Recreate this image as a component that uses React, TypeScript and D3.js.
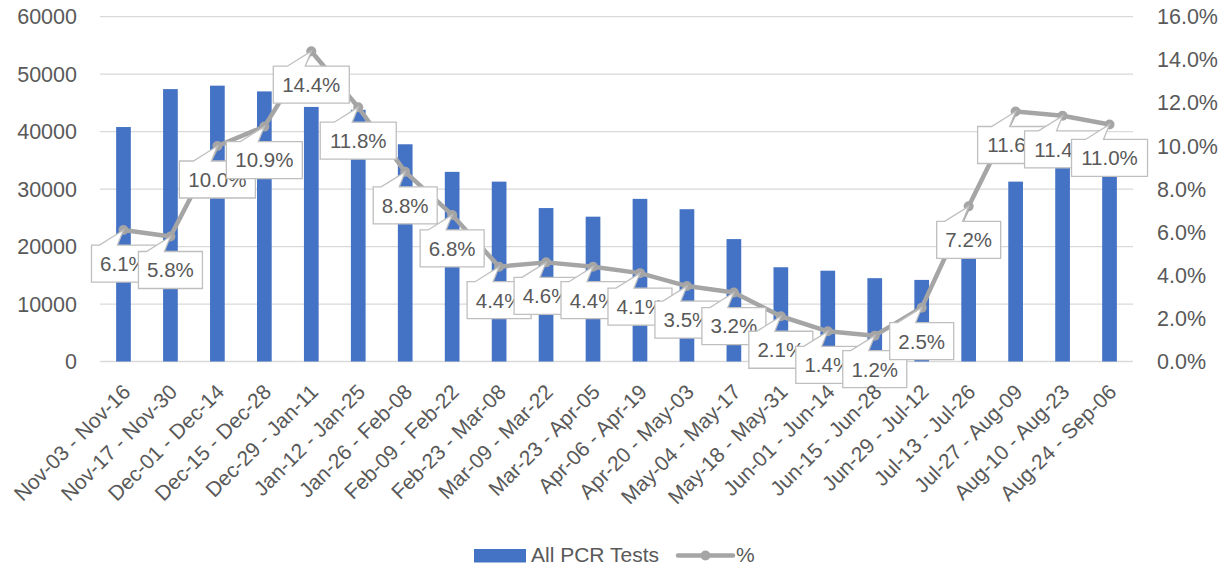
import React from "react";
import * as d3 from "d3";

const categories = [
  "Nov-03 - Nov-16", "Nov-17 - Nov-30", "Dec-01 - Dec-14", "Dec-15 - Dec-28",
  "Dec-29 - Jan-11", "Jan-12 - Jan-25", "Jan-26 - Feb-08", "Feb-09 - Feb-22",
  "Feb-23 - Mar-08", "Mar-09 - Mar-22", "Mar-23 - Apr-05", "Apr-06 - Apr-19",
  "Apr-20 - May-03", "May-04 - May-17", "May-18 - May-31", "Jun-01 - Jun-14",
  "Jun-15 - Jun-28", "Jun-29 - Jul-12", "Jul-13 - Jul-26", "Jul-27 - Aug-09",
  "Aug-10 - Aug-23", "Aug-24 - Sep-06",
];
const pcrTests = [
  40800, 47400, 48000, 47000, 44300, 43800, 37800, 33000, 31300, 26700, 25200,
  28300, 26500, 21300, 16400, 15800, 14500, 14200, 21000, 31300, 34500, 33500,
];
const positivity = [
  6.1, 5.8, 10.0, 10.9, 14.4, 11.8, 8.8, 6.8, 4.4, 4.6, 4.4, 4.1, 3.5, 3.2, 2.1,
  1.4, 1.2, 2.5, 7.2, 11.6, 11.4, 11.0,
];
const leftTicks = [0, 10000, 20000, 30000, 40000, 50000, 60000];
const rightTicks = [0, 2, 4, 6, 8, 10, 12, 14, 16];
const seriesNames = ["All PCR Tests", "%"];

const W = 1228;
const H = 568;
const FONT = "'Liberation Sans', Arial, sans-serif";
const TEXT = "#595959";
const BAR = "#4472c4";
const LINE = "#a5a5a5";
const GRID = "#d9d9d9";

export default function App() {
  const left = 100, right = 1133, top = 16.7, bottom = 361.5;
  const p = 0.687;
  const x = d3.scaleBand<string>().domain(categories).range([left, right]).paddingInner(p).paddingOuter(p / 2);
  const yL = d3.scaleLinear().domain([0, 60000]).range([bottom, top]);
  const yR = d3.scaleLinear().domain([0, 16]).range([bottom, top]);
  const cx = (c: string) => (x(c) as number) + x.bandwidth() / 2;

  const linePath = d3.line<number>()
    .x((_, i) => cx(categories[i]))
    .y((d) => yR(d))(positivity) as string;

  const boxH = 37;
  const callouts = positivity.map((v, i) => {
    const px = cx(categories[i]);
    const py = yR(v);
    const label = v.toFixed(1) + "%";
    const bw = label.length * 12 + 16;
    const bx = px - bw / 2;
    const by = py + 15;
    const b1 = px - 24;
    const b2 = px - 6;
    const path = `M${bx},${by} L${b1},${by} L${px},${py} L${b2},${by} L${bx + bw},${by} L${bx + bw},${by + boxH} L${bx},${by + boxH} Z`;
    return { px, py, label, bx, by, bw, path };
  });

  return (
    <svg width={W} height={H} style={{ position: "absolute", left: 0, top: 0, background: "#fff" }} fontFamily={FONT}>
      {leftTicks.map((t) => (
        <line key={"g" + t} x1={left} x2={right} y1={yL(t)} y2={yL(t)} stroke={GRID} strokeWidth={1.3} />
      ))}
      {leftTicks.map((t) => (
        <text key={"l" + t} x={77} y={yL(t)} dy="0.35em" textAnchor="end" fontSize={21.5} fill={TEXT}>
          {t}
        </text>
      ))}
      {rightTicks.map((t) => (
        <text key={"r" + t} x={1157} y={yR(t)} dy="0.35em" textAnchor="start" fontSize={21.5} fill={TEXT}>
          {t.toFixed(1) + "%"}
        </text>
      ))}
      {categories.map((c, i) => (
        <rect key={"b" + c} x={x(c)} y={yL(pcrTests[i])} width={x.bandwidth()} height={bottom - yL(pcrTests[i])} fill={BAR} />
      ))}
      <path d={linePath} fill="none" stroke={LINE} strokeWidth={4.5} strokeLinejoin="round" />
      {positivity.map((v, i) => (
        <circle key={"m" + i} cx={cx(categories[i])} cy={yR(v)} r={5} fill={LINE} />
      ))}
      {callouts.map((c, i) => (
        <g key={"c" + i}>
          <path d={c.path} fill="#fff" stroke="#bfbfbf" strokeWidth={1.3} strokeLinejoin="miter" />
          <text x={c.bx + c.bw / 2} y={c.by + boxH / 2} dy="0.36em" textAnchor="middle" fontSize={20.5} fill={TEXT}>
            {c.label}
          </text>
        </g>
      ))}
      {categories.map((c) => (
        <text key={"x" + c} transform={`translate(${cx(c) + 3},388) rotate(-45)`} dy="0.35em" textAnchor="end" fontSize={21} fill={TEXT}>
          {c}
        </text>
      ))}
      <rect x={474} y={549} width={52} height={13.5} fill={BAR} />
      <text x={531} y={562} fontSize={21} fill={TEXT}>{seriesNames[0]}</text>
      <line x1={678} x2={733} y1={555.5} y2={555.5} stroke={LINE} strokeWidth={4.5} strokeLinecap="round" />
      <circle cx={705.5} cy={555.5} r={5} fill={LINE} />
      <text x={736} y={562} fontSize={21} fill={TEXT}>{seriesNames[1]}</text>
    </svg>
  );
}
